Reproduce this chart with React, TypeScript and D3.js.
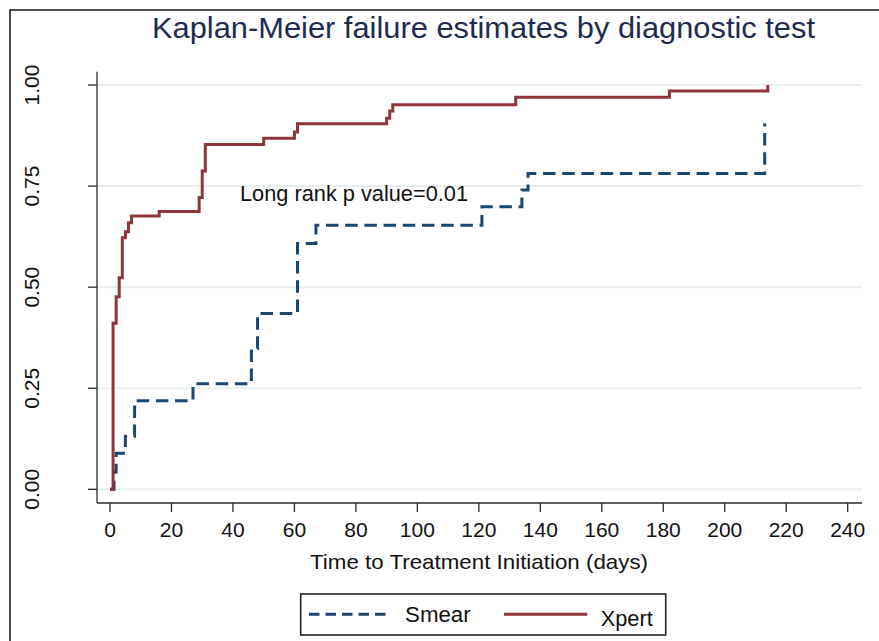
import React from "react";
import * as d3 from "d3";

// ---- data ----
const xpertDays = [0, 1, 2, 3, 4, 5, 6, 7, 16, 29, 30, 31, 50, 60, 61, 90, 91, 92, 132, 182, 214];
const xpertFail = [0, 0.411, 0.476, 0.523, 0.622, 0.637, 0.659, 0.676, 0.687, 0.722, 0.787, 0.853, 0.868, 0.884, 0.904, 0.918, 0.936, 0.951, 0.97, 0.985, 1.0];

const smearDays = [0, 1.3, 2, 5, 8, 27, 46, 48, 61, 67, 121, 134, 136, 213];
const smearFail = [0, 0.043, 0.089, 0.131, 0.219, 0.261, 0.348, 0.435, 0.608, 0.653, 0.699, 0.74, 0.781, 0.905];

const xTicks = [0, 20, 40, 60, 80, 100, 120, 140, 160, 180, 200, 220, 240];
const yTicks = [0, 0.25, 0.5, 0.75, 1.0];

const titleText = "Kaplan-Meier failure estimates by diagnostic test";
const xTitle = "Time to Treatment Initiation (days)";
const noteText = "Long rank p value=0.01";
const seriesNames = ["Smear", "Xpert"];

const NAVY = "#1a476f";
const CRAN = "#90353b";
const FONT = "'Liberation Sans', Arial, Helvetica, sans-serif";

export default function App() {
  const W = 879, H = 641;
  const x = d3.scaleLinear().domain([0, 240]).range([110, 847.7]);
  const y = d3.scaleLinear().domain([0, 1]).range([489.3, 85]);
  const axisX0 = 97, axisX1 = 862, axisY = 503, axisTop = 71.7;

  const line = d3
    .line<[number, number]>()
    .x((d) => x(d[0]))
    .y((d) => y(d[1]))
    .curve(d3.curveStepAfter);

  const xpert: [number, number][] = xpertDays.map((d, i) => [d, xpertFail[i]]);
  const smear: [number, number][] = smearDays.map((d, i) => [d, smearFail[i]]);

  return (
    <svg
      width={W}
      height={H}
      style={{ position: "absolute", left: 0, top: 0, background: "#fff" }}
      fontFamily={FONT}
    >
      <rect x={0} y={0} width={W} height={H} fill="#fff" />
      {/* outer frame (left & top visible) */}
      <rect x={10} y={10} width={W + 50} height={H + 50} fill="none" stroke="#222" strokeWidth={1.6} />

      {/* title */}
      <text
        x={483.5}
        y={37.5}
        textAnchor="middle"
        fontSize={29}
        fill="#1e2b50"
        textLength={663}
        lengthAdjust="spacingAndGlyphs"
      >
        {titleText}
      </text>

      {/* gridlines */}
      {yTicks.map((t) => (
        <line key={"g" + t} x1={axisX0} x2={axisX1} y1={y(t)} y2={y(t)} stroke="#e8eff1" strokeWidth={2} />
      ))}

      {/* curves */}
      <path d={line(smear) || ""} fill="none" stroke={NAVY} strokeWidth={3} strokeDasharray="12.5 6.7" />
      <path d={line(xpert) || ""} fill="none" stroke={CRAN} strokeWidth={3} />

      {/* axes */}
      <line x1={axisX0} x2={axisX0} y1={axisTop} y2={axisY} stroke="#2a2a2a" strokeWidth={1.3} />
      <line x1={axisX0} x2={axisX1} y1={axisY} y2={axisY} stroke="#2a2a2a" strokeWidth={1.3} />
      {yTicks.map((t) => (
        <g key={"yt" + t}>
          <line x1={axisX0 - 9} x2={axisX0} y1={y(t)} y2={y(t)} stroke="#2a2a2a" strokeWidth={1.3} />
          <text
            transform={`translate(38.5,${y(t)}) rotate(-90)`}
            textAnchor="middle"
            fontSize={21}
            fill="#111"
          >
            {d3.format(".2f")(t)}
          </text>
        </g>
      ))}
      {xTicks.map((t) => (
        <g key={"xt" + t}>
          <line x1={x(t)} x2={x(t)} y1={axisY} y2={axisY + 9} stroke="#2a2a2a" strokeWidth={1.3} />
          <text x={x(t)} y={536.7} textAnchor="middle" fontSize={21} fill="#111">
            {t}
          </text>
        </g>
      ))}

      {/* x-axis title */}
      <text
        x={479}
        y={569}
        textAnchor="middle"
        fontSize={21}
        fill="#111"
        textLength={338}
        lengthAdjust="spacingAndGlyphs"
      >
        {xTitle}
      </text>

      {/* annotation */}
      <text x={240} y={200.5} fontSize={22} fill="#111" textLength={228} lengthAdjust="spacingAndGlyphs">
        {noteText}
      </text>

      {/* legend */}
      <rect x={300.7} y={594} width={365} height={41} fill="#fff" stroke="#222" strokeWidth={1.6} />
      <line x1={309} x2={390} y1={614.3} y2={614.3} stroke={NAVY} strokeWidth={3} strokeDasharray="10.5 6" />
      <text x={405} y={621.7} fontSize={22} fill="#111" textLength={65.7} lengthAdjust="spacingAndGlyphs">
        {seriesNames[0]}
      </text>
      <line x1={504} x2={587.3} y1={614.3} y2={614.3} stroke={CRAN} strokeWidth={3} />
      <text x={600.7} y={625.7} fontSize={22} fill="#111" textLength={52} lengthAdjust="spacingAndGlyphs">
        {seriesNames[1]}
      </text>
    </svg>
  );
}
